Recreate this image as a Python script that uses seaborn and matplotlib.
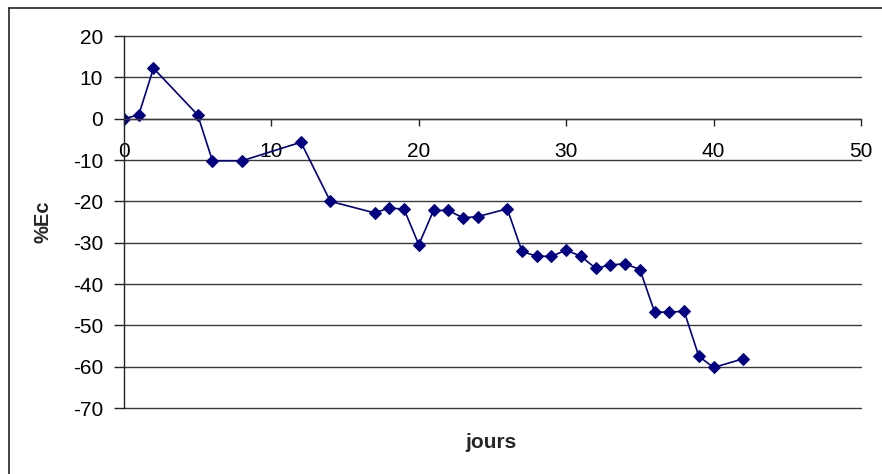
import matplotlib
matplotlib.use("Agg")
import matplotlib.pyplot as plt
import seaborn as sns
import pandas as pd
from matplotlib.lines import Line2D

# Daily measurements
jours = [0, 1, 2, 5, 6, 8, 12, 14, 17, 18, 19, 20, 21, 22, 23, 24, 26,
         27, 28, 29, 30, 31, 32, 33, 34, 35, 36, 37, 38, 39, 40, 42]
ec_pct = [0.0, 0.9, 12.2, 0.9, -10.2, -10.2, -5.7, -20.0, -22.8, -21.6,
          -21.9, -30.5, -22.2, -22.2, -24.0, -23.7, -21.8, -32.1, -33.3,
          -33.3, -31.8, -33.3, -36.2, -35.4, -35.1, -36.5, -46.8, -46.8,
          -46.6, -57.5, -60.2, -58.1]
x_ticks = [0, 10, 20, 30, 40, 50]
y_ticks = [20, 10, 0, -10, -20, -30, -40, -50, -60, -70]

df = pd.DataFrame({"jours": jours, "ec": ec_pct})

sns.set_theme(style="white")
plt.rcParams["font.family"] = ["Liberation Sans", "DejaVu Sans"]

W, H = 882, 474
fig = plt.figure(figsize=(W / 100, H / 100), dpi=100)
ax = fig.add_axes([124 / W, 1 - 408 / H, (861 - 124) / W, (408 - 36) / H])

sns.lineplot(data=df, x="jours", y="ec", ax=ax, color="#000080",
             linewidth=1.2, marker="D", markersize=6,
             markeredgecolor="#000080", markerfacecolor="#000080")

for side in ("top", "right"):
    ax.spines[side].set_visible(False)
ax.spines["left"].set_color("#222222")
ax.spines["left"].set_linewidth(1.0)
# x axis crosses at y = 0
ax.spines["bottom"].set_position(("data", 0))
ax.spines["bottom"].set_color("#3a3a3a")
ax.spines["bottom"].set_linewidth(1.0)

ax.set_xlim(0, 50)
ax.set_ylim(-70, 20)
ax.set_xticks(x_ticks)
ax.set_yticks(y_ticks)
ax.set_xticklabels([str(v) for v in x_ticks])
ax.set_yticklabels([str(v) for v in y_ticks])

ax.tick_params(axis="y", direction="out", length=7, width=1, color="#222222",
               pad=8, labelcolor="black", labelsize=15, left=True)
ax.tick_params(axis="x", direction="out", length=5, width=1, color="#222222",
               pad=12, labelcolor="black", labelsize=15, bottom=True)

# horizontal grid like a spreadsheet chart
ax.yaxis.grid(True, color="#3a3a3a", linewidth=1.0)
ax.xaxis.grid(False)
ax.set_axisbelow(True)
for gl in ax.get_ygridlines():
    gl.set_clip_on(False)

ax.set_xlabel("")
ax.set_ylabel("")
fig.text(491 / W, 1 - 443 / H, "jours", ha="center", va="center",
         fontsize=15, fontweight="bold")
fig.text(43 / W, 1 - 222 / H, "%Ec", ha="center", va="center",
         fontsize=14.5, fontweight="bold", rotation=90)

# chart frame
fig.add_artist(Line2D([8.5 / W, 8.5 / W], [0, 1 - 7.5 / H], color="#222222",
                      linewidth=1.2, transform=fig.transFigure))
fig.add_artist(Line2D([8.5 / W, 1], [1 - 7.5 / H, 1 - 7.5 / H], color="#222222",
                      linewidth=1.2, transform=fig.transFigure))

fig.savefig("out.png", dpi=100)
